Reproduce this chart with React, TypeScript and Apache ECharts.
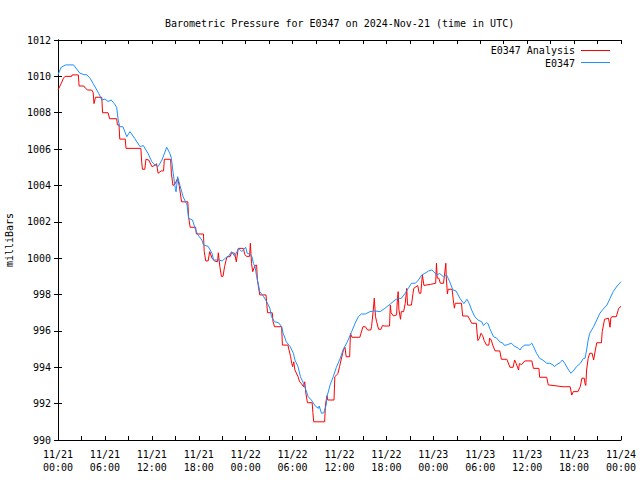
import React, { useEffect, useRef } from "react";
import * as echarts from "echarts";

const TITLE = "Barometric Pressure for E0347 on 2024-Nov-21 (time in UTC)";
const Y_NAME = "milliBars";
const SERIES_NAMES = ["E0347 Analysis", "E0347"];
const X_TICK_LABELS = [
  "11/21\n00:00", "11/21\n06:00", "11/21\n12:00", "11/21\n18:00",
  "11/22\n00:00", "11/22\n06:00", "11/22\n12:00", "11/22\n18:00",
  "11/23\n00:00", "11/23\n06:00", "11/23\n12:00", "11/23\n18:00",
  "11/24\n00:00",
];

// [hours since 2024-11-21 00:00 UTC, millibars]
const analysisData = [
  [0, 1009.25], [0.4, 1009.6], [0.7, 1009.9], [0.9, 1010.0], [1.75, 1010.0], [1.8, 1010.08],
  [2.6, 1010.08], [2.7, 1009.47], [3.3, 1009.47], [3.5, 1009.35], [3.8, 1009.25], [4.3, 1009.25],
  [4.5, 1009.1], [4.6, 1008.5], [4.8, 1008.85], [5.6, 1008.85], [5.7, 1008.0], [6.4, 1008.0],
  [6.6, 1007.67], [7.5, 1007.67], [7.6, 1007.33], [7.8, 1007.33], [7.9, 1006.55], [8.6, 1006.55],
  [8.7, 1006.04], [10.6, 1006.04], [10.7, 1005.3], [10.8, 1004.89], [11.1, 1004.89], [11.25, 1005.44],
  [11.6, 1005.4], [12.0, 1005.04], [12.4, 1005.1], [12.6, 1005.2], [12.8, 1004.67], [13.2, 1004.8],
  [13.5, 1004.8], [13.6, 1005.44], [14.4, 1005.44], [14.5, 1004.67], [14.7, 1004.0], [15.0, 1004.1],
  [15.3, 1004.4], [15.5, 1004.0], [15.8, 1003.1], [16.6, 1003.1], [16.7, 1002.28], [16.9, 1001.7],
  [17.6, 1001.7], [17.7, 1001.33], [18.6, 1001.33], [18.7, 1000.36], [18.9, 999.85], [19.2, 999.85],
  [19.4, 1000.36], [19.7, 1000.0], [20.0, 999.85], [20.4, 999.8], [20.5, 1000.3], [20.7, 999.53],
  [20.9, 999.0], [21.1, 999.0], [21.3, 999.53], [21.6, 1000.08], [22.0, 1000.08], [22.2, 1000.3],
  [22.6, 1000.27], [22.8, 999.8], [23.05, 1000.54], [23.7, 1000.54], [23.9, 1000.2], [24.1, 1000.1],
  [24.5, 1000.1], [24.6, 1000.82], [24.75, 999.7], [24.9, 999.26], [25.2, 999.6], [25.4, 999.62],
  [25.5, 998.8], [25.8, 997.98], [26.6, 997.98], [26.8, 997.0], [27.4, 997.0], [27.5, 996.5],
  [27.7, 996.23], [28.6, 996.23], [28.7, 995.22], [29.4, 995.22], [29.75, 994.58], [29.9, 994.2],
  [30.0, 994.03], [30.15, 994.3], [30.3, 993.85], [30.7, 993.48], [30.9, 993.2], [31.1, 993.12],
  [31.4, 992.93], [31.55, 993.2], [31.7, 992.57], [31.9, 992.05], [32.5, 992.05], [32.6, 991.5],
  [32.7, 991.0], [34.1, 991.0], [34.2, 991.93], [34.4, 992.44], [34.5, 992.2], [35.3, 992.2],
  [35.4, 993.48], [35.8, 993.65], [36.0, 994.03], [36.2, 994.4], [36.5, 994.95], [36.7, 995.1],
  [36.85, 994.58], [37.3, 994.58], [37.4, 995.87], [37.6, 995.65], [38.6, 995.65], [39.0, 996.23],
  [39.3, 996.23], [39.6, 996.05], [40.0, 996.05], [40.1, 996.23], [40.3, 997.06], [40.45, 997.8],
  [40.6, 996.8], [40.75, 996.5], [41.0, 996.09], [41.3, 996.09], [41.5, 996.3], [41.7, 996.27],
  [42.4, 996.27], [42.5, 997.42], [42.6, 997.0], [42.9, 996.82], [43.3, 996.88], [43.4, 997.7],
  [43.5, 998.16], [43.6, 997.16], [43.8, 996.64], [43.9, 997.06], [44.2, 997.06], [44.4, 997.5],
  [44.6, 998.34], [44.7, 997.42], [45.2, 997.42], [45.4, 998.07], [45.5, 998.34], [46.0, 998.5],
  [46.2, 998.07], [46.4, 998.07], [46.5, 998.62], [46.6, 999.07], [46.8, 998.5], [47.6, 998.56],
  [48.3, 998.62], [48.4, 999.72], [48.5, 998.9], [48.7, 998.9], [48.9, 998.62], [49.3, 998.62],
  [49.4, 998.98], [49.6, 999.72], [49.65, 998.98], [49.8, 998.03], [49.9, 998.29], [50.4, 998.29],
  [50.6, 997.52], [50.7, 997.25], [50.8, 997.52], [51.6, 997.52], [51.75, 996.82], [52.4, 996.82],
  [52.7, 996.6], [52.9, 996.42], [53.5, 996.42], [53.6, 995.87], [53.7, 995.47], [53.9, 995.6],
  [54.1, 995.87], [54.3, 995.75], [54.5, 995.47], [54.8, 995.22], [55.1, 995.22], [55.2, 995.6],
  [55.4, 995.5], [55.6, 995.22], [55.9, 994.9], [56.5, 994.9], [56.7, 994.44], [57.4, 994.44],
  [57.8, 994.0], [58.2, 994.0], [58.4, 994.4], [58.6, 994.2], [58.9, 993.85], [59.0, 994.2],
  [59.3, 994.15], [59.7, 994.35], [60.6, 994.35], [60.8, 993.94], [61.5, 993.94], [61.6, 993.45],
  [62.5, 993.45], [62.7, 993.03], [64.6, 992.93], [65.5, 992.93], [65.7, 992.47], [65.9, 992.66],
  [66.5, 992.66], [66.8, 992.95], [67.0, 993.4], [67.3, 993.4], [67.4, 993.1], [67.5, 993.0],
  [67.6, 993.85], [67.8, 994.49], [68.0, 994.77], [68.3, 994.77], [68.5, 994.4], [68.7, 994.9],
  [68.9, 995.35], [69.5, 995.35], [69.6, 995.96], [69.9, 996.64], [70.4, 996.7], [70.6, 996.2],
  [70.7, 996.7], [70.8, 996.78], [71.4, 996.78], [71.7, 997.24], [72.0, 997.35],
];

const stationData = [
  [0, 1010.08], [0.4, 1010.5], [1.0, 1010.63], [2.0, 1010.63], [2.8, 1010.17], [3.3, 1010.1],
  [3.7, 1010.08], [4.1, 1009.9], [4.5, 1009.6], [5.2, 1009.07], [5.6, 1008.7], [6.0, 1008.75],
  [6.4, 1008.62], [6.8, 1008.7], [7.2, 1008.5], [7.5, 1008.3], [7.7, 1007.6], [7.9, 1007.23],
  [8.3, 1007.23], [8.8, 1006.68], [9.2, 1006.96], [9.8, 1006.59], [10.5, 1006.13], [10.9, 1006.2],
  [11.5, 1005.77], [12.0, 1005.3], [12.4, 1005.13], [12.8, 1005.04], [13.3, 1005.4], [13.9, 1006.1],
  [14.3, 1005.77], [14.5, 1005.5], [14.7, 1004.76], [15.0, 1003.84], [15.1, 1003.65], [15.3, 1004.48],
  [15.6, 1004.0], [16.0, 1003.38], [16.5, 1002.93], [16.7, 1002.19], [17.2, 1002.1], [17.6, 1001.55],
  [17.9, 1001.28], [18.4, 1001.0], [18.6, 1000.73], [19.2, 1000.65], [19.7, 1000.27], [19.9, 999.9],
  [20.6, 999.9], [21.0, 999.85], [21.4, 1000.0], [21.8, 1000.1], [22.2, 1000.36], [22.6, 1000.1],
  [23.1, 1000.54], [23.5, 1000.36], [24.0, 1000.6], [24.2, 1000.27], [24.6, 1000.2], [24.8, 1000.08],
  [25.0, 999.7], [25.2, 999.53], [25.4, 999.0], [25.6, 998.62], [25.8, 998.16], [26.3, 997.88],
  [26.7, 997.6], [27.1, 997.24], [27.3, 996.78], [27.7, 996.5], [28.2, 996.45], [28.6, 996.23],
  [28.8, 995.87], [29.2, 995.4], [29.7, 995.13], [30.1, 994.77], [30.3, 994.4], [30.7, 994.03],
  [31.0, 993.48], [31.4, 993.12], [31.7, 992.75], [32.0, 992.38], [32.4, 992.2], [32.9, 991.87],
  [33.3, 991.74], [33.4, 991.87], [33.7, 991.47], [34.0, 991.5], [34.3, 991.93], [34.4, 992.38],
  [34.8, 993.03], [35.2, 993.48], [35.6, 994.0], [36.1, 994.5], [36.5, 995.0], [37.0, 995.4],
  [37.5, 995.9], [38.0, 996.42], [38.4, 996.78], [38.8, 996.93], [39.3, 996.93], [39.9, 997.06],
  [40.5, 997.1], [41.2, 997.06], [41.8, 997.24], [42.5, 997.48], [43.1, 997.7], [43.5, 997.8],
  [43.9, 997.79], [44.4, 998.07], [44.8, 998.34], [45.2, 998.62], [45.7, 998.62], [46.1, 998.8],
  [46.5, 999.07], [46.9, 999.16], [47.4, 999.3], [47.8, 999.35], [48.1, 999.25], [48.4, 999.07],
  [48.8, 999.16], [49.3, 998.98], [49.7, 999.07], [50.1, 998.7], [50.5, 998.25], [50.9, 998.2],
  [51.4, 997.79], [51.9, 997.5], [52.3, 997.74], [52.6, 997.5], [52.9, 997.15], [53.3, 996.78],
  [53.7, 996.6], [54.2, 996.5], [54.4, 996.3], [54.8, 996.45], [55.0, 996.4], [55.2, 996.14],
  [55.7, 995.68], [56.1, 995.6], [56.5, 995.4], [56.9, 995.32], [57.1, 995.2], [57.5, 995.25],
  [58.0, 995.32], [58.3, 995.18], [58.9, 995.04], [59.1, 994.95], [59.3, 995.1], [59.7, 995.22],
  [60.3, 995.22], [60.6, 995.32], [60.8, 995.15], [61.2, 994.77], [61.6, 994.49], [62.0, 994.4],
  [62.5, 994.22], [62.9, 994.22], [63.3, 994.13], [63.5, 994.03], [63.7, 994.13], [64.2, 994.25],
  [64.5, 994.4], [64.8, 994.22], [65.3, 993.85], [65.6, 993.67], [66.0, 993.85], [66.3, 994.03],
  [66.8, 994.22], [67.2, 994.49], [67.4, 994.49], [67.6, 994.95], [67.8, 995.5], [68.0, 995.87],
  [68.5, 996.23], [68.9, 996.6], [69.3, 996.97], [69.7, 997.19], [70.2, 997.42], [70.6, 997.79],
  [71.0, 998.16], [71.5, 998.47], [72.0, 998.7],
];

const COLORS = ["#ff0000", "#1e90ff"];
const FONT = '"DejaVu Sans Mono", monospace';

export default function App() {
  const ref = useRef<HTMLDivElement>(null);
  useEffect(() => {
    document.body.style.margin = "0";
    const chart = echarts.init(ref.current!, null, { renderer: "svg" });
    const xBase = {
      type: "value",
      min: 0,
      max: 72,
      interval: 6,
      axisLine: { show: true, lineStyle: { color: "#000", width: 1 } },
      axisTick: { show: true, inside: true, length: 4, lineStyle: { color: "#000" } },
      minorTick: { show: true, splitNumber: 2, length: 4, lineStyle: { color: "#000" } },
      splitLine: { show: false },
      minorSplitLine: { show: false },
    };
    const yBase = {
      type: "value",
      min: 990,
      max: 1012,
      interval: 2,
      axisLine: { show: true, lineStyle: { color: "#000", width: 1 } },
      axisTick: { show: true, inside: true, length: 4, lineStyle: { color: "#000" } },
      splitLine: { show: false },
    };
    const option = {
      animation: false,
      textStyle: { fontFamily: FONT, fontSize: 10, color: "#000" },
      title: {
        text: TITLE,
        left: 160,
        top: 13,
        textStyle: { fontFamily: FONT, fontSize: 10, fontWeight: "normal", color: "#000" },
      },
      grid: { left: 58, right: 19, top: 40, bottom: 40, containLabel: false, outerBoundsMode: "none" },
      xAxis: [
        {
          ...xBase,
          position: "bottom",
          axisLabel: {
            show: true,
            margin: 8,
            lineHeight: 13,
            fontFamily: FONT,
            fontSize: 10,
            color: "#000",
            formatter: (v: number) => X_TICK_LABELS[Math.round(v / 6)] ?? "",
          },
        },
        { ...xBase, position: "top", axisLabel: { show: false } },
      ],
      yAxis: [
        {
          ...yBase,
          position: "left",
          name: Y_NAME,
          nameLocation: "middle",
          nameGap: 44,
          nameTextStyle: { fontFamily: FONT, fontSize: 10, color: "#000" },
          axisLabel: {
            show: true,
            margin: 7,
            fontFamily: FONT,
            fontSize: 10,
            color: "#000",
            formatter: (v: number) => String(v),
          },
        },
        { ...yBase, position: "right", axisLabel: { show: false } },
      ],
      graphic: [
        {
          type: "text",
          x: 575,
          y: 50,
          style: { text: SERIES_NAMES[0], align: "right", verticalAlign: "middle", font: `10px ${FONT}`, fill: "#000" },
        },
        { type: "line", shape: { x1: 581, y1: 50.5, x2: 610, y2: 50.5 }, style: { stroke: COLORS[0], lineWidth: 1 } },
        {
          type: "text",
          x: 575,
          y: 63,
          style: { text: SERIES_NAMES[1], align: "right", verticalAlign: "middle", font: `10px ${FONT}`, fill: "#000" },
        },
        { type: "line", shape: { x1: 581, y1: 62.5, x2: 610, y2: 62.5 }, style: { stroke: COLORS[1], lineWidth: 1 } },
      ],
      series: [
        {
          type: "line",
          name: SERIES_NAMES[0],
          data: analysisData,
          xAxisIndex: 0,
          yAxisIndex: 0,
          showSymbol: false,
          symbol: "none",
          color: COLORS[0],
          lineStyle: { color: COLORS[0], width: 1 },
        },
        {
          type: "line",
          name: SERIES_NAMES[1],
          data: stationData,
          xAxisIndex: 0,
          yAxisIndex: 0,
          showSymbol: false,
          symbol: "none",
          color: COLORS[1],
          lineStyle: { color: COLORS[1], width: 1 },
        },
      ],
    };
    chart.setOption(option as any);
    return () => chart.dispose();
  }, []);
  return <div ref={ref} style={{ width: 640, height: 480 }} />;
}
